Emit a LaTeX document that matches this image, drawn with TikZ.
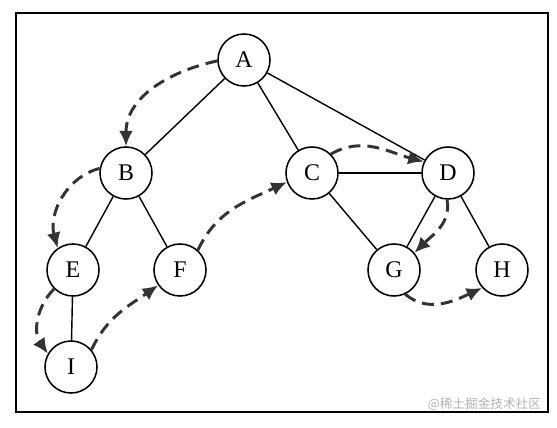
\documentclass[tikz,border=0pt]{standalone}
\usepackage{fontspec}
\setmainfont{Liberation Serif}
\newfontfamily\cjkfont{Noto Sans CJK SC}
\usepackage{tikz}
\usetikzlibrary{arrows.meta}

\begin{document}
\begin{tikzpicture}[x=0.025cm,y=-0.025cm]
              \colorlet{edgecol}{black}
              \colorlet{walkcol}{black!80}
              \tikzstyle{vertex}=[circle,draw=edgecol,line width=1.1pt,fill=white,minimum size=1.3cm,inner sep=0pt,font=\fontsize{17}{17}\selectfont]
              \tikzstyle{edge}=[edgecol,line width=1pt]
              \tikzstyle{walk}=[-{Latex[length=11pt,width=10pt]},walkcol,line width=2.1pt,dash pattern=on 8.5pt off 5pt]

              % Frame
              \useasboundingbox (0,0) rectangle (557,427);
              \draw[line width=1.4pt] (16,13) rectangle (548,412);

              % Vertices
              \node[vertex] (A) at (244,60) {A};
              \node[vertex] (B) at (126,173) {B};
              \node[vertex] (C) at (312,173) {C};
              \node[vertex] (D) at (448,173) {D};
              \node[vertex] (E) at (73,270) {E};
              \node[vertex] (F) at (180,270) {F};
              \node[vertex] (G) at (394,270) {G};
              \node[vertex] (H) at (502,270) {H};
              \node[vertex] (I) at (71,367) {I};

              % Edges
              \foreach \u/\v in {A/B,A/C,A/D,B/E,B/F,C/D,C/G,D/G,D/H,E/I}
                \draw[edge] (\u) -- (\v);

              % Traversal
              \draw[walk] (A.182) to[out=192,in=90] (B.north);
              \draw[walk] (B.170) to[out=195,in=105] (E.125);
              \draw[walk] (E.225) to[out=225,in=125] (I.150);
              \draw[walk] (I.40) to[out=65,in=215] (F.215);
              \draw[walk] (F.48) to[out=65,in=205] (C.200);
              \draw[walk] (C.45) to[out=30,in=165] (D.155);
              \draw[walk] (D.268) to[out=-80,in=45] (G.40);
              \draw[walk] (G.-65) to[out=-40,in=205] (H.222);

              \node[anchor=east,text=black!30,font=\cjkfont\fontsize{9}{9}\selectfont] (mark) at (546,404) {@稀土掘金技术社区};
            \end{tikzpicture}
\end{document}
